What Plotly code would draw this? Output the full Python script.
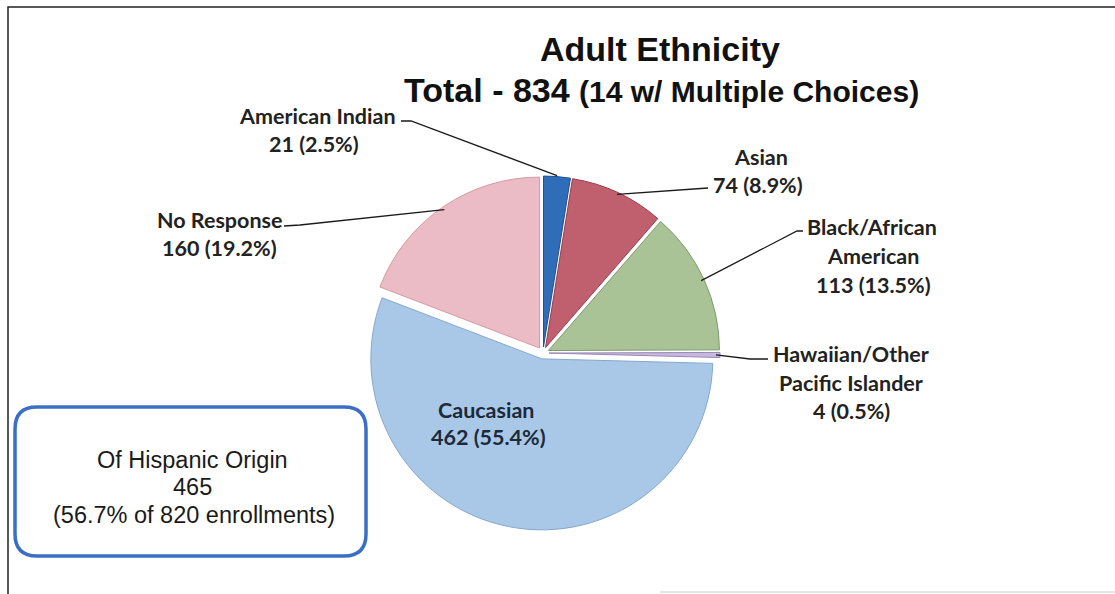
import math
import plotly.graph_objects as go

# Adult ethnicity counts (slices run clockwise from 12 o'clock)
categories = ["American Indian", "Asian", "Black/African American",
              "Hawaiian/Other Pacific Islander", "Caucasian", "No Response"]
counts = [21, 74, 113, 4, 462, 160]
percent_labels = ["2.5%", "8.9%", "13.5%", "0.5%", "55.4%", "19.2%"]
slice_colors = ["#2f6db8", "#c0606e", "#a9c396", "#c6b8dd", "#a9c8e8", "#ecbcc6"]
edge_colors = ["#1f4f8f", "#9c3a48", "#7f9a6c", "#9a88b8", "#86a8cc", "#d59aa6"]

total_label = "834"
multi_choice = "14"
hispanic_count = 465
hispanic_pct = "56.7%"
enrollments = 820

W, H = 1115, 594
CX, CY, R = 543, 353, 171          # pie centre and radius (pixels)
PULL = 0.035


def px(x):
    return x / W


def py(y):
    return 1 - y / H


half = R * (1 + PULL)
fig = go.Figure(go.Pie(
    labels=categories,
    values=counts,
    sort=False,
    direction="clockwise",
    rotation=0,
    pull=[PULL] * len(counts),
    marker=dict(colors=slice_colors, line=dict(color=edge_colors, width=1)),
    textinfo="none",
    hoverinfo="label+value+percent",
    showlegend=False,
    domain=dict(x=[px(CX - half), px(CX + half)],
                y=[py(CY + half), py(CY - half)]),
))

# angular position of each slice's middle, clockwise from 12 o'clock
total = sum(counts)
mids = []
acc = 0
for c in counts:
    mids.append((acc + c / 2) / total * 2 * math.pi)
    acc += c


def rim_point(i, extra=0):
    rr = R * (1 + PULL) + extra
    return CX + rr * math.sin(mids[i]), CY - rr * math.cos(mids[i])


annotations = []
shapes = []
label_font = dict(family="Lato, 'Open Sans', sans-serif", size=21.5, color="#222222")


def text_line(txt, x, y, anchor="center", font=None):
    annotations.append(dict(text=txt, x=px(x), y=py(y), xref="paper", yref="paper",
                            xanchor=anchor, yanchor="middle", showarrow=False,
                            font=font or label_font))


def leader(points):
    path = "M " + " L ".join(f"{px(x):.5f},{py(y):.5f}" for x, y in points)
    shapes.append(dict(type="path", path=path, xref="paper", yref="paper",
                       line=dict(color="#1a1a1a", width=1.3)))


def value_text(i):
    return f"{counts[i]} ({percent_labels[i]})"


# American Indian
text_line("<b>American Indian</b>", 317, 116)
text_line(f"<b>{value_text(0)}</b>", 314, 144)
leader([(401, 121), (411, 121), rim_point(0, 1)])

# Asian
text_line("<b>Asian</b>", 761, 157)
text_line(f"<b>{value_text(1)}</b>", 711, 185, anchor="left")
leader([rim_point(1, -2), (708, 188)])

# Black/African American
text_line("<b>Black/African</b>", 872, 227)
text_line("<b>American</b>", 873, 256)
text_line(f"<b>{value_text(2)}</b>", 873, 285)
leader([rim_point(2, -3), (797, 231), (803, 231)])

# Hawaiian/Other Pacific Islander
text_line("<b>Hawaiian/Other</b>", 851, 354)
text_line("<b>Pacific Islander</b>", 851, 383)
text_line(f"<b>{value_text(3)}</b>", 851, 411)
leader([rim_point(3, -4), (750, 359), (768, 359)])

# No Response
text_line("<b>No Response</b>", 219, 220)
text_line(f"<b>{value_text(5)}</b>", 219, 248)
leader([(284, 226), (300, 225), rim_point(5, -3)])

# Caucasian (inside its slice)
text_line("<b>Caucasian</b>", 486, 410, font=dict(label_font, color="#1c2a3a"))
text_line(f"<b>{value_text(4)}</b>", 488, 437, font=dict(label_font, color="#1c2a3a"))

# title
title_font = dict(family="'Liberation Sans', Arial, sans-serif", size=34, color="#111111")
text_line("<b>Adult Ethnicity</b>", 660, 49, font=title_font)
text_line(f"<b>Total - {total_label} </b><b><span style='font-size:30px'>"
          f"({multi_choice} w/ Multiple Choices)</span></b>", 661, 90, font=title_font)

# Hispanic origin callout box with rounded corners
bx0, by0, bx1, by1, rad = 15, 407, 366, 556, 22
box = (f"M {px(bx0 + rad)},{py(by0)} L {px(bx1 - rad)},{py(by0)} "
       f"Q {px(bx1)},{py(by0)} {px(bx1)},{py(by0 + rad)} "
       f"L {px(bx1)},{py(by1 - rad)} Q {px(bx1)},{py(by1)} {px(bx1 - rad)},{py(by1)} "
       f"L {px(bx0 + rad)},{py(by1)} Q {px(bx0)},{py(by1)} {px(bx0)},{py(by1 - rad)} "
       f"L {px(bx0)},{py(by0 + rad)} Q {px(bx0)},{py(by0)} {px(bx0 + rad)},{py(by0)} Z")
shapes.append(dict(type="path", path=box, xref="paper", yref="paper",
                   line=dict(color="#3b6fc6", width=3.5), fillcolor="white", layer="below"))
box_font = dict(family="'Liberation Sans', Arial, sans-serif", size=23.5, color="#1a1a1a")
text_line("Of Hispanic Origin", 192, 460, font=box_font)
text_line(f"{hispanic_count}", 192, 487, font=box_font)
text_line(f"({hispanic_pct} of {enrollments} enrollments)", 194, 515, font=box_font)

# frame around the chart area
shapes.append(dict(type="path", xref="paper", yref="paper",
                   path=f"M {px(8)},{py(594)} L {px(8)},{py(7)} L {px(1115)},{py(7)}",
                   line=dict(color="#222222", width=1.5)))
shapes.append(dict(type="line", xref="paper", yref="paper",
                   x0=px(660), x1=1, y0=py(592), y1=py(592),
                   line=dict(color="#dddddd", width=1.5)))

fig.update_layout(
    width=W, height=H,
    margin=dict(l=0, r=0, t=0, b=0),
    paper_bgcolor="white",
    plot_bgcolor="white",
    annotations=annotations,
    shapes=shapes,
)

fig.write_html("out.html")
